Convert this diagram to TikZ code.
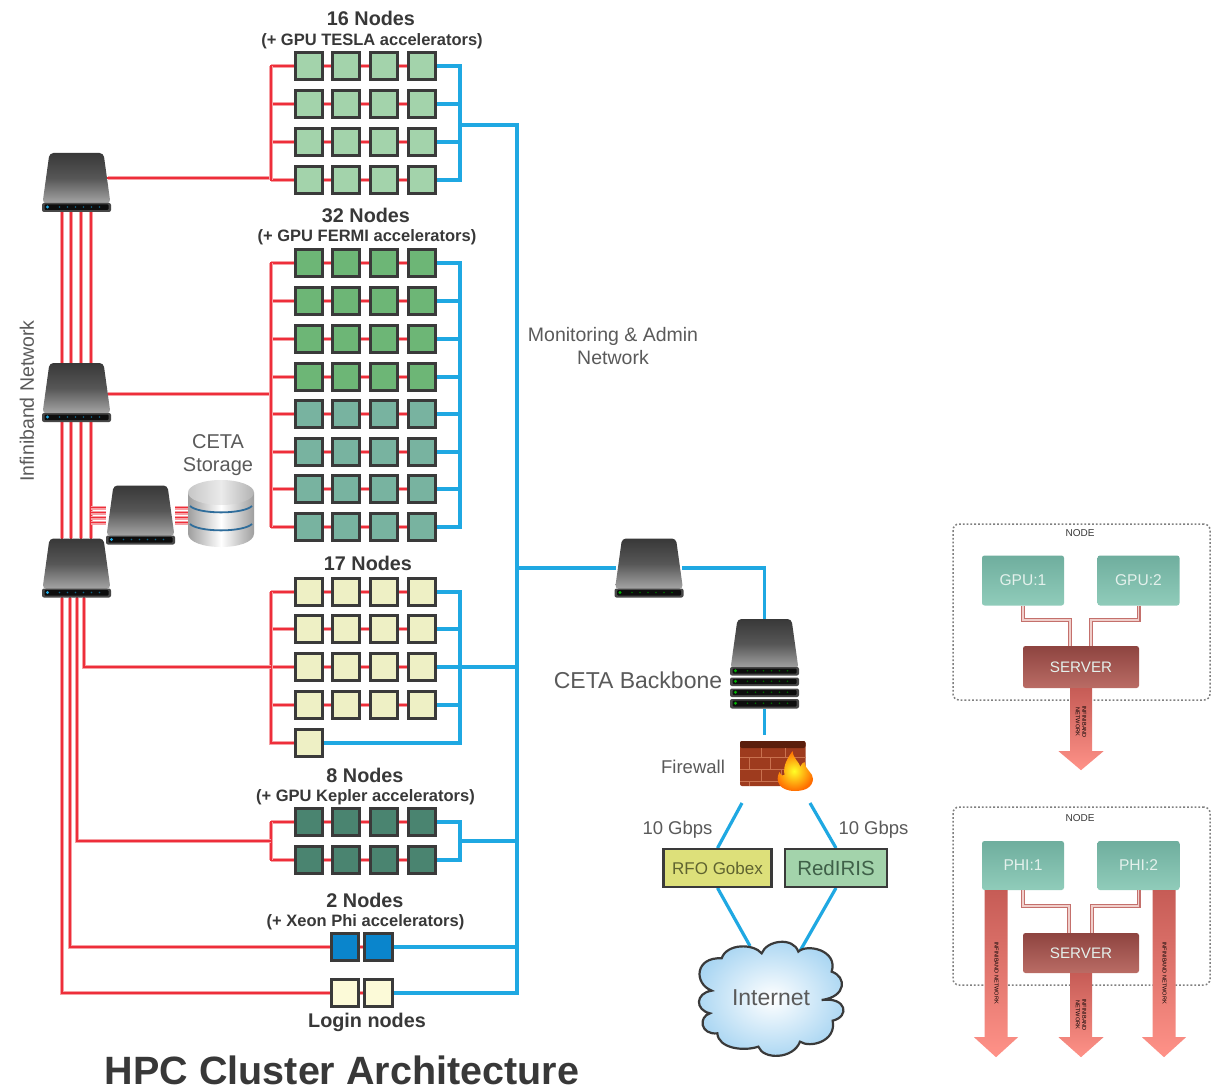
\documentclass[tikz,border=0pt]{standalone}
\usepackage{fontspec}
\setmainfont{Liberation Sans}
\usetikzlibrary{calc}
\pgfdeclarelayer{paper}\pgfdeclarelayer{wires}\pgfsetlayers{paper,wires,main}
\definecolor{rd}{HTML}{EE2E3A}\definecolor{rdpale}{HTML}{F6A0A4}
\definecolor{bl}{HTML}{1FA8E2}\definecolor{bd}{HTML}{3A3A3A}
\definecolor{tesla}{HTML}{A3D3AB}\definecolor{fermi}{HTML}{6DB676}
\definecolor{teal}{HTML}{78B3A0}\definecolor{ylw}{HTML}{EEF0C5}
\definecolor{kepler}{HTML}{4A8470}\definecolor{phic}{HTML}{0A85CC}
\definecolor{logc}{HTML}{FCFAD8}\definecolor{txt}{HTML}{383838}
\definecolor{txtg}{HTML}{5A5A5A}
\definecolor{rfof}{HTML}{DDE07A}\definecolor{rfot}{HTML}{5F6330}\definecolor{redt}{HTML}{3F6048}\definecolor{cloudc}{HTML}{A8D5F2}
\definecolor{ringc}{HTML}{2F6D9B}
\tikzset{
 redln/.style={draw=rd,line width=2pt,line cap=rect,line join=miter,preaction={draw=rdpale,line width=4.6pt}},
 redthin/.style={draw=rd,line width=1.5pt,preaction={draw=rdpale,line width=4pt}},
 blueln/.style={draw=bl,line width=3.2pt,line cap=rect,line join=miter},
 cellbox/.style={draw=bd,line width=2.8pt,minimum size=27.5pt,inner sep=0pt,rectangle},
 hd/.style={font=\fontsize{19.8}{22}\selectfont\bfseries,text=txt,inner sep=0pt},
 sb/.style={font=\fontsize{16.5}{19}\selectfont\bfseries,text=txt,inner sep=0pt},
 lbl/.style={font=\fontsize{19.5}{22.5}\selectfont,text=txtg,inner sep=0pt,align=center},
 devbox/.style={rectangle,inner sep=0pt},
 acc/.style={rectangle,rounded corners=2.5pt,minimum width=82pt,minimum height=50pt,inner sep=0pt,top color=acct,bottom color=accb,text=acctx,font=\fontsize{15.6}{18}\selectfont},
 srv/.style={rectangle,rounded corners=2.5pt,minimum width=116pt,inner sep=0pt,top color=srvt,bottom color=srvb,text=acctx,font=\fontsize{15.2}{18}\selectfont},
 nodeframe/.style={draw=gray,line width=1.5pt,dash pattern=on 1.8pt off 2pt,rounded corners=6pt},
 plink/.style={draw=plk,line width=1.4pt,double=plkl,double distance=1.2pt,line join=miter},
 tiny/.style={font=\fontsize{5.6}{6.4}\selectfont,text=black,rotate=-90,align=center,inner sep=0pt},
 brick/.style={draw=brkl,line width=.9pt},
}
\definecolor{acct}{HTML}{6FAE9E}\definecolor{accb}{HTML}{90CCBA}\definecolor{acctx}{HTML}{E4F1EC}
\definecolor{srvt}{HTML}{8E4440}\definecolor{srvb}{HTML}{BA6C65}
\definecolor{plk}{HTML}{C4706C}\definecolor{plkl}{HTML}{F0CFCB}
\definecolor{arrt}{HTML}{C65C56}\definecolor{arrb}{HTML}{FF9288}
\definecolor{brk}{HTML}{9E3B1E}\definecolor{brkl}{HTML}{C9714F}\definecolor{brkd}{HTML}{5A1E0C}
\newcommand{\cellgrid}[3]{%
 \foreach \yy [count=\rw] in {#3} {%
  \foreach \xx [count=\cl] in {309,346,384,422} {\node[cellbox,fill=#2] (#1-\rw-\cl) at (\xx,\yy) {};}
  \begin{pgfonlayer}{wires}
   \draw[redln] (rs |- #1-\rw-1.west) -- (#1-\rw-1.west);
   \draw[redln] (#1-\rw-1.east) -- (#1-\rw-2.west);
   \draw[redln] (#1-\rw-2.east) -- (#1-\rw-3.west);
   \draw[redln] (#1-\rw-3.east) -- (#1-\rw-4.west);
   \draw[blueln] (#1-\rw-4.east) -- (bs |- #1-\rw-4.east);
  \end{pgfonlayer}
 }}
\newcommand{\panelband}[3]{% top, bottom, led
 \fill[black!72,rounded corners=2pt] (-34.5,#1) rectangle (34.5,#2);
 \fill[black!95,rounded corners=1pt] (-32,#1+1.5) rectangle (32,#2-2);
 \fill[#3] (-29,{(#1+#2)/2-.5}) circle (1.7pt);
 \foreach \lx in {-17,-9,-1,7,15,23}{\fill[#3!60!black] (\lx,{(#1+#2)/2-.5}) circle (.8pt);}
}
\newcommand{\swnode}[4]{% name, cx, cy, led
 \node[devbox,minimum width=69pt,minimum height=59pt] (#1) at (#2,#3) {};
 \begin{scope}[shift={(#1.center)}]
  \path[top color=black!78,bottom color=black!35,middle color=black!66,rounded corners=4pt] (-27,-29.5) -- (27,-29.5) -- (34,21) -- (-34,21) -- cycle;
  \panelband{20.5}{29.5}{#4}
 \end{scope}}
\newcommand{\fatarrow}[5]{% anchor, shaft length, head tip length, half shaft, half head
 \begin{scope}[shift={#1}]
  \path[top color=arrt,bottom color=arrb] (-#4,0) -- (#4,0) -- (#4,#2) -- (#5,#2) -- (0,#3) -- (-#5,#2) -- (-#4,#2) -- cycle;
 \end{scope}}
\begin{document}
\begin{tikzpicture}[x=1pt,y=-1pt]
\useasboundingbox (0,0) rectangle (1218,1091);
\begin{pgfonlayer}{paper}\fill[white] (0,0) rectangle (1218,1091);\end{pgfonlayer}
% spines
\coordinate (rs) at (271,0); \coordinate (bs) at (460,0); \coordinate (ms) at (517,0);
\coordinate (b1) at (62,0); \coordinate (b2) at (71,0); \coordinate (b3) at (81,0); \coordinate (b4) at (91,0);
\coordinate (l1) at (62,0); \coordinate (l2) at (70,0); \coordinate (l3) at (77,0); \coordinate (l4) at (84,0);
% grids
\cellgrid{a}{tesla}{66,104,142,180}
\cellgrid{f}{fermi}{263,301,339,377}
\cellgrid{t}{teal}{414,452,489,527}
\cellgrid{y}{ylw}{592,629,667,705}
\cellgrid{k}{kepler}{822,860}
\node[cellbox,fill=ylw] (y5) at (309,743) {};
\node[cellbox,fill=phic] (phi1) at (345,947) {};
\node[cellbox,fill=phic] (phi2) at (378.5,947) {};
\node[cellbox,fill=logc] (log1) at (345,993) {};
\node[cellbox,fill=logc] (log2) at (378.5,993) {};
% devices
\swnode{sw1}{76.5}{182.5}{bl}
\swnode{sw2}{76.5}{392.5}{bl}
\swnode{sw3}{76.5}{568}{bl}
\swnode{stsw}{140.5}{515}{bl}
\swnode{bsw}{649}{568}{green!70!black}
\coordinate (p1) at (108,178); \coordinate (p2) at (108,394);
% backbone
\node[devbox,minimum width=69pt,minimum height=90pt] (bb) at (764.5,664) {};
\begin{scope}[shift={(bb.center)}]
 \path[top color=black!78,bottom color=black!35,middle color=black!66,rounded corners=4pt] (-27,-45) -- (27,-45) -- (34,5) -- (-34,5) -- cycle;
 \panelband{3}{11.5}{green!70!black}
 \panelband{13.5}{22}{green!70!black}
 \panelband{24.5}{33}{green!70!black}
 \panelband{35}{44.5}{green!70!black}
\end{scope}
% storage
\node[devbox,minimum width=66pt,minimum height=65pt] (stor) at (221,512.5) {};
\begin{scope}[shift={(stor.center)}]
 \path[left color=black!38,right color=black!38,middle color=white] (-33,-20) -- (-33,21) .. controls (-33,39) and (33,39) .. (33,21) -- (33,-20) -- cycle;
 \path[left color=black!22,right color=black!30,middle color=black!8] (0,-20) ellipse (33pt and 12.5pt);
 \draw[ringc,line width=1.8pt] (-31,-6.5) .. controls (-22,2) and (22,2) .. (31,-6.5);
 \draw[ringc,line width=1.8pt] (-31,11.5) .. controls (-22,20) and (22,20) .. (31,11.5);
\end{scope}
% firewall
\node[devbox,minimum width=93pt,minimum height=68pt] (fw) at (773.5,769) {};
\begin{scope}[shift={(fw.center)}]
 \fill[brk,rounded corners=2pt] (-33.5,-28) rectangle (32,17);
 \fill[brkd,rounded corners=2pt] (-33.5,-28) rectangle (32,-21);
 \foreach \ly in {-12,0,12}{\draw[brick] (-33.5,\ly) -- (32,\ly);}
 \draw[brick] (-12,-21) -- (-12,-12) (12,-21) -- (12,-12) (-24,-12) -- (-24,0) (-3,-12) -- (-3,0) (-12,0) -- (-12,12) (8,0) -- (8,12) (-24,12) -- (-24,17);
 \path[inner color=yellow!85!white,outer color=red!15!orange] (21.5,22) .. controls (6,22) and (1,12) .. (6,3) .. controls (8,7) and (9,7) .. (11,6) .. controls (9,-4) and (15,-12) .. (19,-18) .. controls (20,-10) and (25,-8) .. (27,-2) .. controls (28,-6) and (30,-6) .. (31,-7) .. controls (31,0) and (40,4) .. (39.5,10) .. controls (39,18) and (32,22) .. (21.5,22) -- cycle;
\end{scope}
\coordinate (fwl) at (742,803); \coordinate (fwr) at (810,803);
% carriers
\node[draw=bd,line width=2.4pt,fill=rfof,minimum width=108pt,minimum height=37.5pt,inner sep=0pt,font=\fontsize{17}{20}\selectfont,text=rfot] (rfo) at (717.5,868) {RFO Gobex};
\node[draw=bd,line width=2.4pt,fill=tesla,minimum width=101.5pt,minimum height=37.5pt,inner sep=0pt,font=\fontsize{20.5}{24}\selectfont,text=redt] (red) at (836,868) {RedIRIS};
% cloud
\node[devbox,minimum width=147pt,minimum height=116pt,font=\fontsize{23}{26}\selectfont,text=txtg] (inet) at (771,998) {};
\begin{scope}[xshift=630pt,yshift=-780pt,x=.33333pt,y=-.33333pt]
 \path[draw=bd,line width=2.2pt,inner color=white,outer color=cloudc]
 (395,520) .. controls (410,480) and (490,470) .. (505,515)
 .. controls (530,490) and (625,510) .. (605,575)
 .. controls (650,590) and (650,650) .. (575,660)
 .. controls (650,650) and (660,710) .. (608,722)
 .. controls (620,785) and (540,805) .. (510,785)
 .. controls (490,838) and (400,840) .. (385,800)
 .. controls (340,815) and (265,805) .. (262,760)
 .. controls (210,765) and (205,710) .. (240,700)
 .. controls (195,690) and (195,640) .. (245,632)
 .. controls (190,610) and (195,530) .. (275,535)
 .. controls (290,490) and (370,490) .. (395,520) -- cycle;
\end{scope}
\coordinate (cl) at (750,946); \coordinate (cr) at (800,951);
\node[font=\fontsize{23}{26}\selectfont,text=txtg,inner sep=0pt] at (inet.center) {Internet};
% wires
\begin{pgfonlayer}{wires}
 \foreach \bb in {b1,b2,b3,b4}{
  \draw[redln] (\bb |- sw1.south) -- (\bb |- sw2.north);
  \draw[redln] (\bb |- sw2.south) -- (\bb |- sw3.north);
 }
 \foreach \d in {-7.5,-2.5,2.5,7.5}{
  \path ([yshift=\d pt]stsw.west) coordinate (tl);
  \path ([yshift=\d pt]stsw.east) coordinate (tr);
  \draw[redthin] (b4 |- tl) -- (tl);
  \draw[redthin] (tr) -- (stor.center |- tr);
 }
 \draw[redln] (p1) -- (rs |- p1);
 \draw[redln] (p2) -- (rs |- p2);
 \draw[redln] (rs |- a-1-1.west) -- (rs |- a-4-1.west);
 \draw[redln] (rs |- f-1-1.west) -- (rs |- t-4-1.west);
 \draw[redln] (rs |- y-1-1.west) -- (rs |- y5.west) -- (y5.west);
 \draw[redln] (rs |- k-1-1.west) -- (rs |- k-2-1.west);
 \draw[redln] (l4 |- sw3.south) -- (l4 |- y-3-1.west) -- (rs |- y-3-1.west);
 \coordinate (km) at ($(k-1-1.west)!.5!(k-2-1.west)$);
 \draw[redln] (l3 |- sw3.south) -- (l3 |- km) -- (rs |- km);
 \draw[redln] (l2 |- sw3.south) -- (l2 |- phi1.west) -- (phi1.west);
 \draw[redln] (l1 |- sw3.south) -- (l1 |- log1.west) -- (log1.west);
 \draw[redln] (phi1.east) -- (phi2.west);
 \draw[redln] (log1.east) -- (log2.west);
 % monitoring
 \draw[blueln] (bs |- a-1-4.east) -- (bs |- a-4-4.east);
 \draw[blueln] (bs |- f-1-4.east) -- (bs |- t-4-4.east);
 \draw[blueln] (bs |- y-1-4.east) -- (bs |- y5.east) -- (y5.east);
 \draw[blueln] (bs |- k-1-4.east) -- (bs |- k-2-4.east);
 \coordinate (h1) at (460,125);
 \draw[blueln] (h1) -- (ms |- h1) -- (ms |- log2.east) -- (log2.east);
 \draw[blueln] (y-3-4.east) -- (ms |- y-3-4.east);
 \coordinate (kb) at ($(k-1-4.east)!.5!(k-2-4.east)$);
 \draw[blueln] (bs |- kb) -- (ms |- kb);
 \draw[blueln] (phi2.east) -- (ms |- phi2.east);
 \draw[blueln] (ms |- bsw.west) -- (bsw.west);
 \draw[blueln] (bsw.east) -- (bb.north |- bsw.east) -- (bb.north);
 \draw[blueln,line cap=butt] (bb.south) -- (bb.south |- fw.north);
 \draw[blueln,line cap=butt] (fwl) -- (rfo.north);
 \draw[blueln,line cap=butt] (fwr) -- (red.north);
 \draw[blueln,line cap=butt] (rfo.south) -- (cl);
 \draw[blueln,line cap=butt] (red.south) -- (cr);
\end{pgfonlayer}
% labels
\node[hd] (n16) at (371,18) {16 Nodes};
\node[sb] (s16) at (372,41) {(+ GPU TESLA accelerators)};
\node[hd] (n32) at (366,215) {32 Nodes};
\node[sb] (s32) at (367,237) {(+ GPU FERMI accelerators)};
\node[hd] (n17) at (368,563) {17 Nodes};
\node[hd] (n8) at (365,775) {8 Nodes};
\node[sb] (s8) at (365.5,797) {(+ GPU Kepler accelerators)};
\node[hd] (n2) at (365,900) {2 Nodes};
\node[sb] (s2) at (365.5,922) {(+ Xeon Phi accelerators)};
\node[hd] (lg) at (367,1022) {Login nodes};
\node[font=\fontsize{39.5}{44}\selectfont\bfseries,text=txt,inner sep=0pt] (ttl) at (342,1070.5) {HPC Cluster Architecture};
\node[lbl,rotate=90] (ib) at (27,401) {Infiniband Network};
\node[lbl] (ms1) at (613,346) {Monitoring \& Admin\\Network};
\node[lbl,font=\fontsize{20}{23}\selectfont] (cs) at (218,455) {CETA\\Storage};
\node[lbl,font=\fontsize{23}{26}\selectfont] (cb) at (638,680) {CETA Backbone};
\node[lbl,font=\fontsize{18.5}{22}\selectfont] (fl) at (693,767) {Firewall};
\node[lbl,font=\fontsize{18.5}{22}\selectfont] (g1) at (677.5,830) {10 Gbps};
\node[lbl,font=\fontsize{18.5}{22}\selectfont] (g2) at (873.5,830) {10 Gbps};
% GPU panel
\node[nodeframe,minimum width=257pt,minimum height=176pt,inner sep=0pt] (fr1) at (1081.5,612) {};
\node[font=\fontsize{10}{12}\selectfont,text=txt,inner sep=0pt] (nd1) at (1080,533) {NODE};
\node[acc] (g1a) at (1023,580.5) {GPU:1};
\node[acc] (g1b) at (1138.5,580.5) {GPU:2};
\node[srv,minimum height=42pt] (s1) at (1081,667) {SERVER};
\coordinate (g1p) at (1070,620); \coordinate (g1q) at (1091,620);
\draw[plink] (g1a.south) -- (g1a.south |- g1p) -- (g1p) -- (g1p |- s1.north);
\draw[plink] (g1b.south) -- (g1b.south |- g1q) -- (g1q) -- (g1q |- s1.north);
\fatarrow{(s1.south)}{63}{82}{11}{22.5}
\node[tiny] (t1) at (1081,722) {INFINIBAND\\NETWORK};
% PHI panel
\node[nodeframe,minimum width=257pt,minimum height=178pt,inner sep=0pt] (fr2) at (1081.5,896) {};
\node[font=\fontsize{10}{12}\selectfont,text=txt,inner sep=0pt] (nd2) at (1080,818) {NODE};
\node[acc,minimum height=49pt] (p1a) at (1023,865.5) {PHI:1};
\node[acc,minimum height=49pt] (p1b) at (1138.5,865.5) {PHI:2};
\node[srv,minimum height=40pt] (s2b) at (1081,953) {SERVER};
\coordinate (g2p) at (1069,906); \coordinate (g2q) at (1092,906);
\draw[plink] (p1a.south) -- (p1a.south |- g2p) -- (g2p) -- (g2p |- s2b.north);
\draw[plink] (p1b.south) -- (p1b.south |- g2q) -- (g2q) -- (g2q |- s2b.north);
\fatarrow{(s2b.south)}{64}{84}{11}{22.5}
\fatarrow{([xshift=-27pt]p1a.south)}{147}{167}{11.5}{22}
\fatarrow{([xshift=25.5pt]p1b.south)}{147}{167}{11.5}{22}
\node[tiny] (t2) at (1081,1015) {INFINIBAND\\NETWORK};
\node[tiny] (t3) at (996.5,973) {INFINIBAND NETWORK};
\node[tiny] (t4) at (1164.5,973) {INFINIBAND NETWORK};
\end{tikzpicture}
\end{document}
